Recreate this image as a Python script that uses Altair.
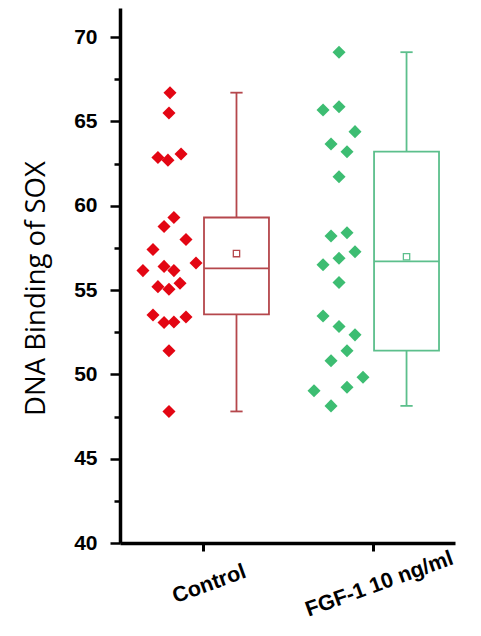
import altair as alt
import pandas as pd

groups = ["Control", "FGF-1 10 ng/ml"]

control_values = [66.7, 65.5, 62.85, 62.7, 63.06, 59.3, 58.76, 58.0, 57.4, 56.6, 56.15,
                  56.4, 56.15, 55.4, 55.2, 55.04, 53.52, 53.07, 53.1, 53.4, 51.4, 47.8]
control_jitter = [0.006, 0.0, -0.065, -0.006, 0.071, 0.029, -0.029, 0.1, -0.094, 0.159, -0.153,
                  -0.029, 0.029, 0.065, -0.065, 0.0, -0.094, -0.029, 0.029, 0.1, 0.0, 0.0]
fgf_values = [69.1, 65.67, 65.87, 64.39, 63.66, 63.2, 61.72, 58.2, 58.4, 57.27, 56.5,
              56.88, 55.44, 53.46, 52.83, 52.34, 51.4, 50.8, 49.83, 49.03, 49.23, 48.13]
fgf_jitter = [0.0, -0.094, 0.0, 0.094, -0.047, 0.047, 0.0, -0.047, 0.047, 0.094, -0.094,
              0.0, 0.0, -0.094, 0.0, 0.094, 0.047, -0.047, 0.141, -0.147, 0.047, -0.047]

q1 = [53.55, 51.4]
median = [56.28, 56.7]
q3 = [59.3, 63.2]
lo = [47.8, 48.13]
hi = [66.7, 69.1]
mean = [57.16, 56.97]

point_colors = ["#e30613", "#3dbd72"]
box_colors = ["#b5474c", "#5cbf8c"]

rows = []
for v, j in zip(control_values, control_jitter):
    rows.append({"group": groups[0], "gi": 1, "jit": j, "value": v})
for v, j in zip(fgf_values, fgf_jitter):
    rows.append({"group": groups[1], "gi": 2, "jit": j, "value": v})
pts = pd.DataFrame(rows)

stats = pd.DataFrame({"group": groups, "gi": [1, 2], "q1": q1, "median": median,
                      "q3": q3, "lo": lo, "hi": hi, "mean": mean})

label_expr = "datum.value == 1 ? '%s' : (datum.value == 2 ? '%s' : '')" % (groups[0], groups[1])

xscale = alt.Scale(domain=[0.512, 2.482], nice=False, zero=False)
yscale = alt.Scale(domain=[40, 71.72], nice=False, zero=False)

xaxis = alt.Axis(values=[1, 2], labelExpr=label_expr, title=None, grid=False,
                 labelAngle=-20, labelAlign="center", labelBaseline="middle",
                 labelPadding=33, labelOffset=6, labelFont="Liberation Sans",
                 labelFontWeight="bold", labelFontSize=21.5, labelColor="black",
                 tickSize=8, tickWidth=3, tickColor="black",
                 domainColor="black", domainWidth=3.5)
yaxis = alt.Axis(values=[40 + 2.5 * k for k in range(13)],
                 labelExpr="datum.value % 5 === 0 ? datum.label : ''",
                 tickSize={"condition": {"test": "datum.value % 5 === 0", "value": 10}, "value": 6},
                 tickWidth=2.5, tickColor="black", domainColor="black", domainWidth=3.5,
                 grid=False, labelFont="Liberation Sans", labelFontWeight="bold",
                 labelFontSize=21, labelColor="black", labelPadding=13,
                 title="DNA Binding of SOX", titleFont="Open Sans", titleFontWeight="normal",
                 titleFontSize=27.5, titleColor="black", titleAngle=-90,
                 titleX=-84, titleY=280, titleAlign="center", titleBaseline="middle")

points = alt.Chart(pts).transform_calculate(
    px="datum.gi - 0.2 + datum.jit"
).mark_point(shape="diamond", filled=True, size=170, opacity=1).encode(
    x=alt.X("px:Q", scale=xscale, axis=xaxis),
    y=alt.Y("value:Q", scale=yscale, axis=yaxis),
    color=alt.Color("group:N", scale=alt.Scale(domain=groups, range=point_colors), legend=None),
)

sbase = alt.Chart(stats).transform_calculate(
    bx="datum.gi + 0.197",
    bl="datum.gi + 0.197 - 0.191",
    br="datum.gi + 0.197 + 0.191",
    cl="datum.gi + 0.197 - 0.036",
    cr="datum.gi + 0.197 + 0.036",
)
stroke = alt.Stroke("group:N", scale=alt.Scale(domain=groups, range=box_colors), legend=None)

box = sbase.mark_rect(filled=False, strokeWidth=1.8).encode(
    x=alt.X("bl:Q", scale=xscale), x2="br:Q",
    y=alt.Y("q1:Q", scale=yscale), y2="q3:Q", stroke=stroke)
med = sbase.mark_rule(strokeWidth=1.8).encode(
    x=alt.X("bl:Q", scale=xscale), x2="br:Q", y=alt.Y("median:Q", scale=yscale), stroke=stroke)
wlow = sbase.mark_rule(strokeWidth=1.8).encode(
    x=alt.X("bx:Q", scale=xscale), y=alt.Y("lo:Q", scale=yscale), y2="q1:Q", stroke=stroke)
whigh = sbase.mark_rule(strokeWidth=1.8).encode(
    x=alt.X("bx:Q", scale=xscale), y=alt.Y("q3:Q", scale=yscale), y2="hi:Q", stroke=stroke)
caplo = sbase.mark_rule(strokeWidth=1.8).encode(
    x=alt.X("cl:Q", scale=xscale), x2="cr:Q", y=alt.Y("lo:Q", scale=yscale), stroke=stroke)
caphi = sbase.mark_rule(strokeWidth=1.8).encode(
    x=alt.X("cl:Q", scale=xscale), x2="cr:Q", y=alt.Y("hi:Q", scale=yscale), stroke=stroke)
meanpt = sbase.mark_point(shape="square", size=40, filled=False, strokeWidth=1.3, opacity=1).encode(
    x=alt.X("bx:Q", scale=xscale), y=alt.Y("mean:Q", scale=yscale), stroke=stroke)

chart = alt.layer(box, med, wlow, whigh, caplo, caphi, meanpt, points).properties(
    width=335, height=535,
    autosize=alt.AutoSizeParams(type="none"),
    padding={"left": 112, "top": 0, "right": 18, "bottom": 85},
).configure_view(stroke=None)

chart.save("out.html", embed_options={"renderer": "svg", "actions": False})
